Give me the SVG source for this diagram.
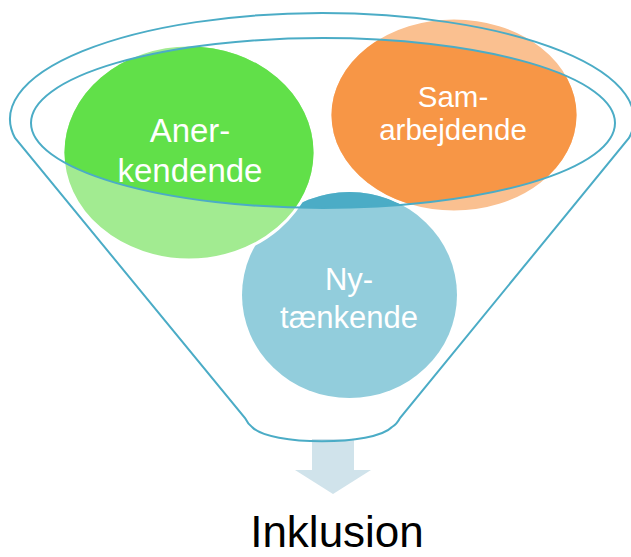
<svg xmlns="http://www.w3.org/2000/svg" width="631" height="557" viewBox="0 0 631 557">
<style>
.lbl{font-family:"Liberation Sans",Arial,sans-serif;fill:#fff;text-anchor:middle}
.rim{fill:none;stroke:#4BACC6;stroke-width:2}
.gap{stroke:#fff;stroke-width:3}
</style>
<defs>
<clipPath id="inner"><ellipse cx="323" cy="123" rx="292" ry="85"/></clipPath>
</defs>
<rect width="631" height="557" fill="#fff"/>
<g id="connectors">
<path d="M312,439 H354 V470 H371 L333,494 L295,470 H312 Z" fill="#D0E3EB"/>
</g>
<g id="node-nytaenkende">
<ellipse cx="349.5" cy="295" rx="107.5" ry="103" fill="#92CDDC"/>
<ellipse cx="349.5" cy="295" rx="107.5" ry="103" fill="#4BACC6" clip-path="url(#inner)"/>
<text class="lbl" x="349" y="290" font-size="31">Ny-</text>
<text class="lbl" x="349" y="328" font-size="31">tænkende</text>
</g>
<g id="node-anerkendende">
<ellipse class="gap" cx="189" cy="152.5" rx="126" ry="107.5" fill="#A2EB91"/>
<ellipse cx="189" cy="152.5" rx="124.5" ry="106" fill="#61E049" clip-path="url(#inner)"/>
<text class="lbl" x="190" y="142" font-size="33">Aner-</text>
<text class="lbl" x="190" y="182" font-size="33">kendende</text>
</g>
<g id="node-samarbejdende">
<ellipse class="gap" cx="454" cy="115" rx="124" ry="97" fill="#FAC090"/>
<ellipse cx="454" cy="115" rx="122.5" ry="95.5" fill="#F79646" clip-path="url(#inner)"/>
<text class="lbl" x="453" y="107" font-size="29.5">Sam-</text>
<text class="lbl" x="453" y="140" font-size="29.5">arbejdende</text>
</g>
<g id="funnel">
<ellipse class="rim" cx="323" cy="123" rx="292" ry="85"/>
<path class="rim" d="M15,138 A312,106 0 1 1 629,138 L400,418 Q397,424 392,427 C374,446 270,446 252,427 Q248,424 245,418 Z"/>
</g>
<g id="node-inklusion">
<text x="337" y="547" font-family="'Liberation Sans',Arial,sans-serif" font-size="44" fill="#000" text-anchor="middle">Inklusion</text>
</g>
</svg>
